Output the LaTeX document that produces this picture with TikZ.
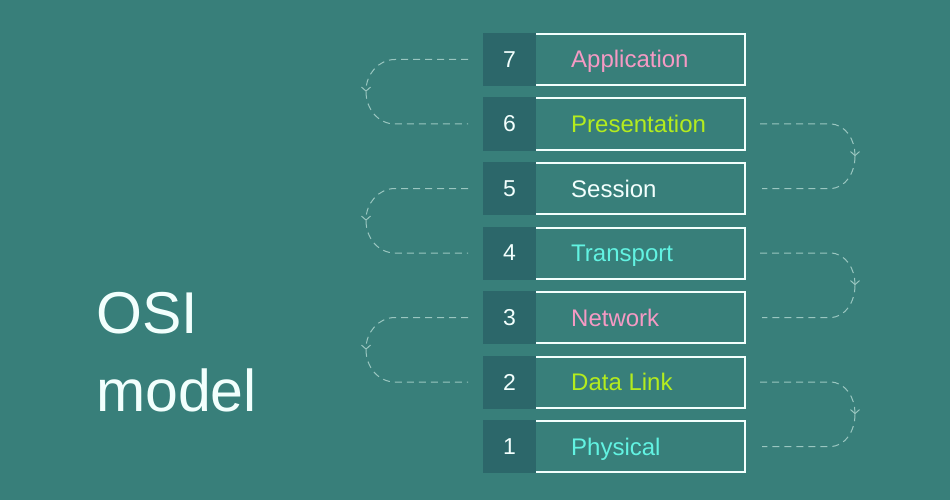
\documentclass[tikz,border=0pt]{standalone}
\usepackage{fontspec}
\setmainfont{Liberation Sans}
\usetikzlibrary{arrows.meta,positioning,calc}
\definecolor{osibg}{HTML}{387F7A}
\definecolor{osidark}{HTML}{2C676A}
\definecolor{osipink}{HTML}{F59AC4}
\definecolor{osilime}{HTML}{B4EC1E}
\definecolor{osicyan}{HTML}{62F3E2}
\definecolor{osiwhite}{HTML}{F2FFFD}
\definecolor{osidash}{HTML}{9AC6C0}
\tikzset{
  laybox/.style={draw=osiwhite, line width=2pt, outer sep=0pt, minimum width=211pt, minimum height=51pt, inner sep=0pt},
  numbox/.style={fill=osidark, outer sep=0pt, minimum width=53pt, minimum height=53pt, inner sep=0pt, text=osiwhite, font=\fontsize{23}{23}\selectfont},
  laytext/.style={inner sep=0pt, anchor=base west, font=\fontsize{24}{24}\selectfont},
  hop/.style={osidash, line width=1pt, dash pattern=on 7pt off 5pt},
  hoptip/.style={-{Straight Barb[length=4pt,width=9pt]}},
}
\begin{document}
\begin{tikzpicture}[x=1pt,y=-1pt]
  \fill[osibg] (0,0) rectangle (950,500);
  % title
  \node[inner sep=0pt, anchor=base west, align=left, text=osiwhite,
        font=\fontsize{59}{78}\selectfont] (title) at (96,411) {OSI\\model};
  % the seven layers
  \foreach \n/\name/\col [count=\i from 0] in {7/Application/osipink, 6/Presentation/osilime,
      5/Session/osiwhite, 4/Transport/osicyan, 3/Network/osipink, 2/Data Link/osilime, 1/Physical/osicyan} {
    \node[laybox] (lay\n) at (639.5, 59.5+64.5*\i) {};
    \node[numbox, anchor=east] (num\n) at ($(lay\n.west)+(2,0)$) {\n};
    \node[laytext, text=\col] (txt\n) at ($(lay\n.west)+(37,8.5)$) {\name};
  }
  % hops on the left
  \foreach \a/\b in {7/6,5/4,3/2} {
    \coordinate (lmid\a) at ($(num\a.west)!0.5!(num\b.west)+(-117,0)$);
    \draw[hop, hoptip] ($(num\a.west)+(-15,0)$) -- ++(-73,0) to[out=180,in=90] (lmid\a);
    \draw[hop] (lmid\a) to[out=-90,in=180] ($(num\b.west)+(-88,0)$) -- ($(num\b.west)+(-15,0)$);
  }
  % hops on the right
  \foreach \a/\b in {6/5,4/3,2/1} {
    \coordinate (rmid\a) at ($(lay\a.east)!0.5!(lay\b.east)+(110,0)$);
    \draw[hop, hoptip] ($(lay\a.east)+(15,0)$) -- ++(70,0) to[out=0,in=90] (rmid\a);
    \draw[hop] (rmid\a) to[out=-90,in=0] ($(lay\b.east)+(85,0)$) -- ($(lay\b.east)+(17,0)$);
  }
\end{tikzpicture}
\end{document}
